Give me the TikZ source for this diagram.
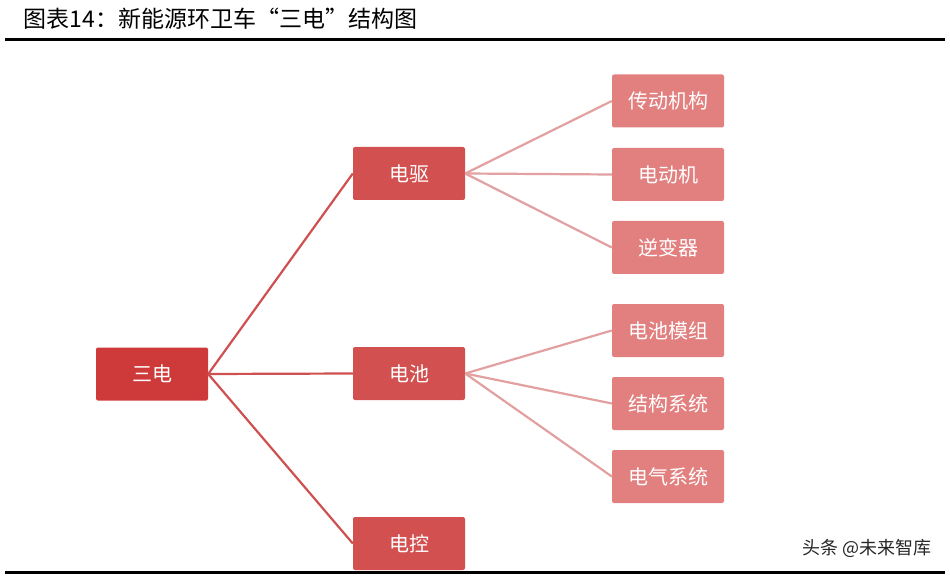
\documentclass[tikz,border=0pt]{standalone}
\usepackage{fontspec}
\setmainfont{Noto Sans CJK SC}
\begin{document}
\begin{tikzpicture}[x=1pt,y=-1pt,
  box/.style={rectangle,rounded corners=2pt,minimum width=112pt,minimum height=53pt,text=white,font=\fontsize{20}{22}\selectfont},
  l0/.style={box,fill=red!75!black!85!white,fill={rgb,255:red,206;green,58;blue,58}},
  l1/.style={box,fill={rgb,255:red,210;green,80;blue,80}},
  l2/.style={box,fill={rgb,255:red,226;green,128;blue,128}},
  c1/.style={line width=2.2pt,draw={rgb,255:red,206;green,80;blue,80}},
  c2/.style={line width=2.2pt,draw={rgb,255:red,226;green,160;blue,160}}]
\useasboundingbox (0,0) rectangle (950,577);
\node[anchor=west,font=\fontsize{23}{25}\selectfont] (t) at (20,19) {图表14：新能源环卫车“三电”结构图};
\draw[line width=3pt] (5,40) -- (945,40);
\node[l0] (s) at (152,374) {三电};
\node[l1] (q) at (409,173.5) {电驱};
\node[l1] (c) at (409,373.5) {电池};
\node[l1] (k) at (409,543.5) {电控};
\node[l2] (a1) at (668,101) {传动机构};
\node[l2] (a2) at (668,174.5) {电动机};
\node[l2] (a3) at (668,247.5) {逆变器};
\node[l2] (b1) at (668,330.5) {电池模组};
\node[l2] (b2) at (668,403.5) {结构系统};
\node[l2] (b3) at (668,476.5) {电气系统};
\foreach \n in {q,c,k} \draw[c1] (s.east) -- (\n.west);
\foreach \n in {a1,a2,a3} \draw[c2] (q.east) -- (\n.west);
\foreach \n in {b1,b2,b3} \draw[c2] (c.east) -- (\n.west);
\draw[line width=3pt] (5,572) -- (945,572);
\node[anchor=east,font=\fontsize{18}{20}\selectfont,text=black!85] (w) at (935,548) {头条 @未来智库};
\end{tikzpicture}
\end{document}
